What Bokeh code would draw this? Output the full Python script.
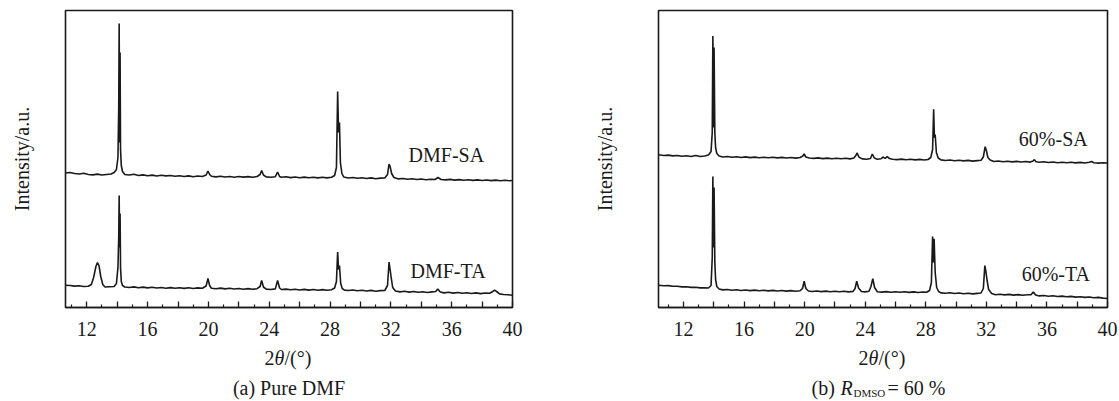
import math
from bokeh.plotting import figure
from bokeh.models import Range1d, FixedTicker, Label
from bokeh.layouts import row, column
from bokeh.core.properties import value
from bokeh.embed import file_html
from bokeh.resources import INLINE

FONT = "Liberation Serif"
INK = "#1a1a1a"

# ---------------- data (2theta in degrees, intensity in a.u.) ----------------
dmf_sa = [(10.6,134.5),(10.9,135),(11.2,134),(11.5,133.5),(11.8,134.2),(12.1,133),(12.4,132.6),(12.7,133.4),(13.0,132.5),(13.3,133),(13.6,133.5),(13.8,135),(13.95,138),(14.05,150),(14.1,200),(14.13,284),(14.16,165),(14.19,255),(14.22,158),(14.27,142),(14.35,136),(14.5,133),(14.8,132.5),(15.1,133.2),(15.4,132),(15.7,132.6),(16.0,131.8),(16.3,132.4),(16.6,131.5),(16.9,132.2),(17.2,131.6),(17.5,132),(17.8,131.2),(18.1,131.8),(18.4,131),(18.7,131.6),(19.0,130.8),(19.3,131.5),(19.6,131),(19.85,132.5),(19.97,136.5),(20.08,133),(20.2,131.2),(20.5,130.6),(20.8,131.3),(21.1,130.5),(21.4,131),(21.7,130.3),(22.0,131),(22.3,130.4),(22.6,130.9),(22.9,130.2),(23.2,131),(23.4,133),(23.5,137),(23.62,132.5),(23.8,130.6),(24.1,130.2),(24.4,130.8),(24.55,135.5),(24.68,131),(24.8,130.2),(25.1,130.7),(25.4,129.9),(25.7,130.5),(26.0,129.8),(26.3,130.4),(26.6,129.7),(26.9,130.3),(27.2,129.6),(27.5,130.2),(27.8,129.6),(28.1,130.2),(28.3,132),(28.42,140),(28.5,216),(28.56,175),(28.62,185),(28.68,145),(28.78,134),(28.9,130.5),(29.2,129.5),(29.5,130),(29.8,129.2),(30.1,129.7),(30.4,129),(30.7,129.6),(31.0,128.8),(31.3,129.4),(31.6,129.5),(31.78,133),(31.88,143.5),(31.95,141),(32.05,134),(32.2,130),(32.5,128.6),(32.8,129),(33.1,128.2),(33.4,128.8),(33.7,128),(34.0,128.5),(34.3,127.8),(34.6,128.3),(34.9,128),(35.1,130),(35.3,128),(35.6,127.6),(35.9,128.1),(36.2,127.4),(36.5,127.9),(36.8,127.2),(37.1,127.8),(37.4,127.1),(37.7,127.6),(38.0,127),(38.3,127.5),(38.6,126.9),(38.9,127.4),(39.2,126.8),(39.5,127.3),(39.8,126.8),(40.0,127)]

dmf_ta = [(10.6,22.3),(10.9,22),(11.2,21.4),(11.5,21.8),(11.8,21),(12.1,21.3),(12.3,23),(12.45,30),(12.6,41),(12.7,45),(12.8,42),(12.92,31),(13.05,23),(13.2,20.5),(13.5,20.8),(13.8,21),(13.95,24),(14.05,40),(14.1,70),(14.13,112),(14.16,60),(14.19,94),(14.22,40),(14.27,26),(14.35,22),(14.5,20.5),(14.8,20),(15.1,20.6),(15.4,19.8),(15.7,20.4),(16.0,19.6),(16.3,20.2),(16.6,19.5),(16.9,20),(17.2,19.3),(17.5,19.9),(17.8,19.2),(18.1,19.8),(18.4,19.1),(18.7,19.7),(19.0,19),(19.3,19.6),(19.6,19.2),(19.85,21.5),(19.97,29),(20.08,22),(20.2,19.2),(20.5,18.8),(20.8,19.4),(21.1,18.6),(21.4,19.2),(21.7,18.5),(22.0,19),(22.3,18.3),(22.6,18.9),(22.9,18.2),(23.2,18.8),(23.4,21),(23.5,27),(23.62,20.5),(23.8,18.4),(24.1,18),(24.4,18.6),(24.55,27),(24.68,19.5),(24.8,18),(25.1,18.4),(25.4,17.7),(25.7,18.3),(26.0,17.5),(26.3,18.1),(26.6,17.4),(26.9,18),(27.2,17.3),(27.5,17.9),(27.8,17.2),(28.1,17.8),(28.3,19.5),(28.42,26),(28.5,55.5),(28.56,38),(28.62,42),(28.7,24),(28.8,19),(28.95,17.4),(29.2,17),(29.5,17.5),(29.8,16.8),(30.1,17.3),(30.4,16.5),(30.7,17.1),(31.0,16.3),(31.3,16.9),(31.6,17),(31.78,22),(31.88,45.5),(31.95,38),(32.02,30),(32.12,20),(32.3,16.5),(32.6,15.6),(32.9,16.2),(33.2,15.4),(33.5,16),(33.8,15.2),(34.1,15.8),(34.4,15),(34.7,15.6),(34.95,16),(35.08,18.5),(35.25,15.5),(35.5,14.6),(35.8,15.2),(36.1,14.4),(36.4,15),(36.7,14.2),(37.0,14.8),(37.3,14),(37.6,14.6),(37.9,13.9),(38.2,14.5),(38.5,14.2),(38.7,16),(38.82,17.3),(38.95,16),(39.15,13.6),(39.4,13),(39.7,12.8),(40.0,12.3)]

r60_sa = [(10.35,152.8),(10.7,152),(11.0,152.4),(11.3,151.6),(11.6,152),(11.9,151.2),(12.2,151.7),(12.5,151),(12.8,152),(13.1,151),(13.4,151.5),(13.65,152.5),(13.82,156),(13.9,175),(13.94,271.4),(13.98,180),(14.02,260),(14.07,175),(14.12,160),(14.2,154),(14.35,151.5),(14.6,150.5),(14.9,151),(15.2,150.2),(15.5,150.7),(15.8,150),(16.1,150.6),(16.4,149.9),(16.7,150.4),(17.0,149.8),(17.3,150.3),(17.6,149.7),(17.9,150.2),(18.2,149.6),(18.5,150.1),(18.8,149.5),(19.1,150),(19.4,149.4),(19.7,150),(19.88,151.5),(19.97,153.5),(20.08,150.5),(20.3,149.5),(20.6,149.1),(20.9,149.6),(21.2,148.9),(21.5,149.4),(21.8,148.8),(22.1,149.3),(22.4,148.7),(22.7,149.2),(23.0,148.6),(23.25,149.5),(23.38,152),(23.47,154.5),(23.58,150.5),(23.8,148.6),(24.1,148.3),(24.35,149),(24.47,153.5),(24.6,149.5),(24.8,148.3),(25.05,148.8),(25.2,150.5),(25.32,149),(25.45,150.8),(25.6,149),(25.8,148.2),(26.1,147.9),(26.4,148.4),(26.7,147.7),(27.0,148.2),(27.3,147.6),(27.6,148.1),(27.9,147.5),(28.15,148),(28.33,150),(28.45,158),(28.52,198.3),(28.57,170),(28.62,173),(28.7,155),(28.82,149.5),(29.0,147.6),(29.3,147),(29.6,147.5),(29.9,146.8),(30.2,147.3),(30.5,146.6),(30.8,147.1),(31.1,146.4),(31.4,146.9),(31.65,147.2),(31.8,150.5),(31.92,160.8),(32.0,157),(32.1,150),(32.25,147.5),(32.5,146),(32.8,146.5),(33.1,145.8),(33.4,146.3),(33.7,145.6),(34.0,146.1),(34.3,145.5),(34.6,146),(34.9,145.4),(35.08,146.5),(35.17,147.8),(35.28,145.8),(35.5,145.2),(35.8,145.7),(36.1,145),(36.4,145.5),(36.7,144.8),(37.0,145.3),(37.3,144.7),(37.6,145.2),(37.9,144.6),(38.2,145.1),(38.5,144.5),(38.8,145.2),(38.95,146),(39.1,144.8),(39.4,144.4),(39.7,144.8),(40.0,144.5)]

r60_ta = [(10.35,22.3),(10.7,21.8),(11.0,21.9),(11.3,21.2),(11.6,21.3),(11.9,20.6),(12.2,20.8),(12.5,20.1),(12.8,20.3),(13.1,19.6),(13.4,19.7),(13.65,19.5),(13.82,22),(13.9,50),(13.94,131),(13.98,60),(14.02,120),(14.07,45),(14.12,28),(14.2,21),(14.35,18.5),(14.6,17.6),(14.9,18),(15.2,17.3),(15.5,17.7),(15.8,17),(16.1,17.5),(16.4,16.9),(16.7,17.4),(17.0,16.8),(17.3,17.2),(17.6,16.6),(17.9,17.1),(18.2,16.5),(18.5,17),(18.8,16.4),(19.1,16.9),(19.4,16.3),(19.7,16.8),(19.86,19),(19.97,26.2),(20.08,19),(20.25,16.5),(20.5,16),(20.8,16.5),(21.1,15.9),(21.4,16.4),(21.7,15.8),(22.0,16.3),(22.3,15.7),(22.6,16.2),(22.9,15.6),(23.2,16.1),(23.33,19),(23.44,26.2),(23.56,19.5),(23.75,16),(24.0,15.6),(24.25,16.2),(24.38,21),(24.5,28.9),(24.62,20),(24.8,15.8),(25.1,15.4),(25.4,15.9),(25.7,15.3),(26.0,15.8),(26.3,15.2),(26.6,15.7),(26.9,15.1),(27.2,15.6),(27.5,15),(27.8,15.5),(28.05,15.2),(28.25,17),(28.37,25),(28.45,71),(28.5,45),(28.55,68.8),(28.62,35),(28.72,20),(28.85,16),(29.0,14.6),(29.3,14.2),(29.6,14.7),(29.9,14),(30.2,14.5),(30.5,13.8),(30.8,14.3),(31.1,13.6),(31.4,14.1),(31.65,14.5),(31.8,19),(31.9,41.9),(31.97,36),(32.05,27),(32.15,18),(32.35,14),(32.6,12.8),(32.9,13.3),(33.2,12.6),(33.5,13.1),(33.8,12.4),(34.1,12.9),(34.4,12.2),(34.7,12.7),(34.95,12.8),(35.1,15.6),(35.25,12.6),(35.5,11.6),(35.8,12),(36.1,11.3),(36.4,11.7),(36.7,11),(37.0,11.4),(37.3,10.7),(37.6,11.1),(37.9,10.4),(38.2,10.8),(38.5,10.1),(38.8,10.5),(39.1,9.8),(39.4,10.1),(39.7,9.4),(40.0,9)]

series_names_a = ["DMF-SA", "DMF-TA"]
series_names_b = ["60%-SA", "60%-TA"]
name_x_a = [35.65, 35.76]
name_y_a = [153, 37]
name_x_b = [36.42, 36.59]
name_y_b = [168.5, 34]

major_ticks = [12, 14, 16, 18, 20, 22, 24, 26, 28, 30, 32, 34, 36, 38, 40]
minor_ticks = [11, 13, 15, 17, 19, 21, 23, 25, 27, 29, 31, 33, 35, 37, 39]
labelled_ticks = [12, 16, 20, 24, 28, 32, 36, 40]
y_label = "Intensity/a.u."

MAIN_H = 345
CAP_H = 401 - MAIN_H
SHIFT = 7


def make_panel(width, bl, br, x0, curves, names, nx, ny, ylab_standoff):
    p = figure(width=width, height=MAIN_H, output_backend="svg", toolbar_location=None,
               x_range=Range1d(x0, 40), y_range=Range1d(0, 297),
               min_border_left=bl, min_border_right=br, min_border_top=10,
               min_border_bottom=MAIN_H - 307, background_fill_color="white",
               border_fill_color="white")
    p.grid.visible = False
    p.outline_line_color = INK
    p.outline_line_width = 1.6
    ax = p.xaxis[0]
    ax.ticker = FixedTicker(ticks=major_ticks, minor_ticks=minor_ticks)
    ax.major_label_overrides = {t: (str(t) if t in labelled_ticks else "") for t in major_ticks}
    ax.major_tick_in = 6
    ax.major_tick_out = 0
    ax.minor_tick_in = 3
    ax.minor_tick_out = 0
    ax.major_tick_line_color = INK
    ax.minor_tick_line_color = INK
    ax.major_tick_line_width = 1.3
    ax.minor_tick_line_width = 1.2
    ax.axis_line_color = INK
    ax.axis_line_width = 1.6
    ax.major_label_standoff = 14
    ax.major_label_text_font = FONT
    ax.major_label_text_font_size = "20px"
    ax.major_label_text_color = INK
    ya = p.yaxis[0]
    ya.ticker = FixedTicker(ticks=[])
    ya.major_tick_in = 0
    ya.major_tick_out = 0
    ya.minor_tick_in = 0
    ya.minor_tick_out = 0
    ya.major_label_standoff = 0
    ya.major_label_text_font_size = "0px"
    ya.axis_line_color = None
    ya.axis_label = y_label
    ya.axis_label_standoff = ylab_standoff
    ya.axis_label_text_font = FONT
    ya.axis_label_text_font_size = "20px"
    ya.axis_label_text_font_style = "normal"
    ya.axis_label_text_color = INK
    for c in curves:
        xs = [pt[0] for pt in c]
        ys = [pt[1] for pt in c]
        p.line(xs, ys, line_color=INK, line_width=1.6)
    p.text(x=nx, y=ny, text=names, text_font=value(FONT), text_font_size="20px",
           text_color=INK, text_align="center", text_baseline="middle")
    return p


def make_caption(width, parts):
    c = figure(width=width, height=CAP_H, output_backend="svg", toolbar_location=None,
               x_range=Range1d(0, width), y_range=Range1d(0, CAP_H),
               x_axis_type=None, y_axis_type=None,
               min_border_left=0, min_border_right=0, min_border_top=0, min_border_bottom=0,
               background_fill_color="white", border_fill_color="white")
    c.grid.visible = False
    c.outline_line_color = None
    for txt, sx, sy, size, style, align in parts:
        c.add_layout(Label(x=sx, y=sy, x_units="screen", y_units="screen", text=txt,
                           text_align=align, text_baseline="alphabetic",
                           text_font=FONT, text_font_size=size,
                           text_font_style=style, text_color=INK))
    return c


XL_Y = CAP_H - (364 - MAIN_H) + SHIFT
CAP_Y = CAP_H - (394 - MAIN_H) + SHIFT
SUB_Y = CAP_H - (399 - MAIN_H) + SHIFT

# caption x positions are relative to the (aligned) plot frame's left edge
pa = make_panel(560, 65, 48, 10.6, [dmf_sa, dmf_ta], series_names_a, name_x_a, name_y_a, 33)
ca = make_caption(560, [("2", 199, XL_Y, "20px", "normal", "left"),
                        ("θ", 209, XL_Y, "20px", "italic", "left"),
                        ("/(°)", 219, XL_Y, "20px", "normal", "left"),
                        ("(a) Pure DMF", 223.5, CAP_Y, "20px", "normal", "center")])

pb = make_panel(559, 98, 12, 10.35, [r60_sa, r60_ta], series_names_b, name_x_b, name_y_b, 43)
cb = make_caption(559, [("2", 200, XL_Y, "20px", "normal", "left"),
                        ("θ", 210, XL_Y, "20px", "italic", "left"),
                        ("/(°)", 220, XL_Y, "20px", "normal", "left"),
                        ("(b)", 153, CAP_Y, "20px", "normal", "left"),
                        ("R", 182, CAP_Y, "20px", "italic", "left"),
                        ("DMSO", 195, SUB_Y, "11px", "normal", "left"),
                        ("= 60 %", 229, CAP_Y, "20px", "normal", "left")])

layout = row(column(pa, ca), column(pb, cb))
open("out.html", "w").write(file_html(layout, INLINE))
